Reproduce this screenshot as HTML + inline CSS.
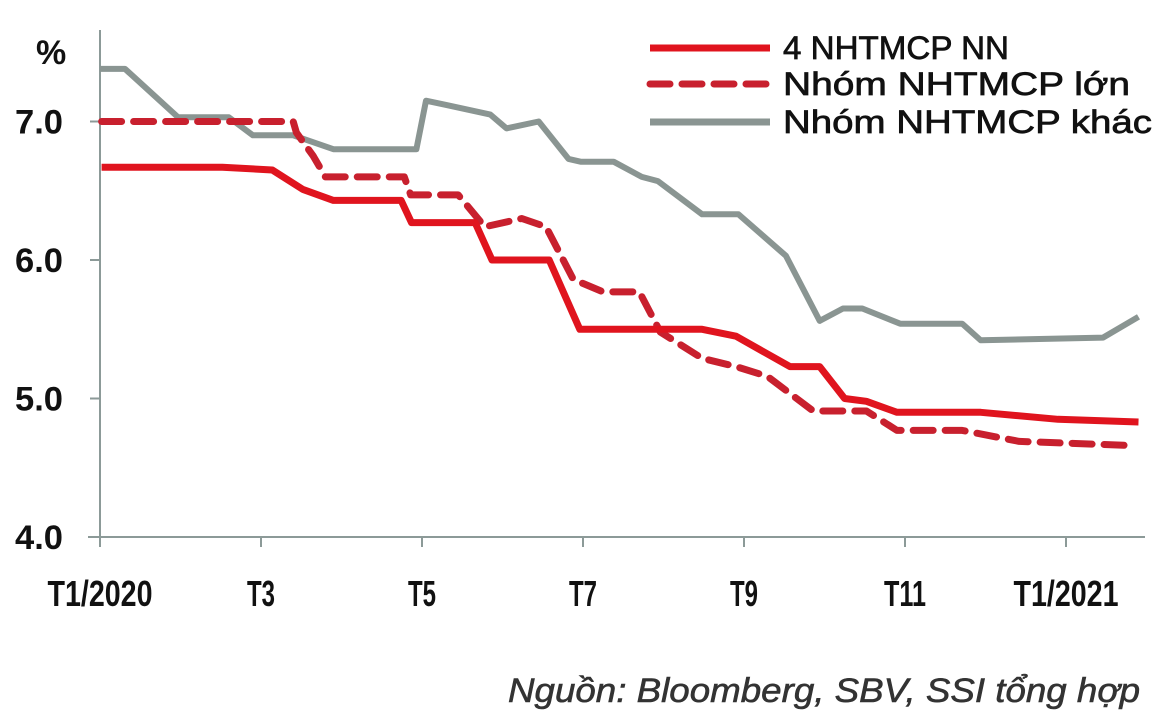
<!DOCTYPE html>
<html><head><meta charset="utf-8"><style>
html,body{margin:0;padding:0;background:#fff;}
svg{display:block;font-family:"Liberation Sans",sans-serif;}
</style></head><body>
<svg id="chart" width="1170" height="718" viewBox="0 0 1170 718">
<g id="axes"></g>
<g id="series"></g>
<g id="legend"></g>
<text x="508" y="702" font-size="34" font-style="italic" fill="#333" stroke="#333" stroke-width="0.6" textLength="632" lengthAdjust="spacingAndGlyphs">Nguồn:  Bloomberg, SBV, SSI tổng hợp</text>
</svg>
<script>
const yTicks = [4.0, 5.0, 6.0, 7.0];
const xTickMonths = [0, 2, 4, 6, 8, 10, 12];
const xTickLabels = ["T1/2020", "T3", "T5", "T7", "T9", "T11", "T1/2021"];
const seriesNames = ["4 NHTMCP NN", "Nhóm NHTMCP  lớn", "Nhóm NHTMCP khác"];
const stateMonths = [0.02,1.52,2.14,2.52,2.9,3.74,3.87,4.66,4.87,5.58,5.96,7.48,7.9,8.57,8.94,9.25,9.52,9.9,10.94,11.9,12.9];
const stateValues = [6.67,6.67,6.65,6.51,6.43,6.43,6.27,6.27,6.0,6.0,5.5,5.5,5.45,5.23,5.23,5.0,4.98,4.9,4.9,4.85,4.83];
const largeMonths = [0.02,2.4,2.44,2.65,2.8,3.78,3.86,4.45,4.78,5.24,5.54,5.88,6.25,6.7,6.96,7.48,7.9,8.29,8.86,9.52,9.9,10.71,11.42,12.84];
const largeValues = [7.0,7.0,6.92,6.75,6.6,6.6,6.47,6.47,6.24,6.3,6.24,5.86,5.77,5.77,5.48,5.29,5.23,5.16,4.91,4.91,4.77,4.77,4.69,4.66];
const otherMonths = [0,0.31,0.97,1.6,1.9,2.4,2.9,3.93,4.05,4.3,4.85,5.05,5.45,5.82,5.97,6.38,6.73,6.93,7.48,7.93,8.52,8.94,9.23,9.47,9.94,10.71,10.94,12.46,12.9];
const otherValues = [7.38,7.38,7.03,7.03,6.9,6.9,6.8,6.8,7.15,7.12,7.05,6.95,7.0,6.73,6.71,6.71,6.6,6.57,6.33,6.33,6.03,5.56,5.65,5.65,5.54,5.54,5.42,5.44,5.59];

const NS = "http://www.w3.org/2000/svg";
const X0 = 100, XPM = 80.5, Y4 = 537, YPU = 138.5;
function xs(m){ return X0 + m * XPM; }
function ys(v){ return Y4 - (v - 4) * YPU; }
function mk(tag, attrs, parent){ const e = document.createElementNS(NS, tag); for (const k in attrs) e.setAttribute(k, attrs[k]); parent.appendChild(e); return e; }

const axes = document.getElementById("axes");
let yAxis = mk("line", {x1:X0, y1:30, x2:X0, y2:Y4, stroke:"#8c9a98", "stroke-width":2}, axes);


let xAxis = mk("line", {x1:88, y1:Y4, x2:1145, y2:Y4, stroke:"#8c9a98", "stroke-width":2}, axes);


let pct = mk("text", {x:36, y:64, "font-size":34, "font-weight":"bold", fill:"#111"}, axes);
pct.textContent = "%";


yTicks.forEach(v => {
  const t = mk("line", {x1:90, y1:ys(v), x2:X0, y2:ys(v), stroke:"#8c9a98", "stroke-width":2}, axes);
  
  
  const l = mk("text", {x:63, y:ys(v)+12, "font-size":34, "font-weight":"bold", "text-anchor":"end", fill:"#111", textLength:48, lengthAdjust:"spacingAndGlyphs"}, axes);
  l.textContent = v.toFixed(1);
  
  
});
xTickMonths.forEach((m, i) => {
  const t = mk("line", {x1:xs(m), y1:Y4, x2:xs(m), y2:Y4+10, stroke:"#8c9a98", "stroke-width":2}, axes);
  
  
  const lab = xTickLabels[i];
  const w = lab.length > 3 ? 105 : (lab.length === 3 ? 42 : 28);
  const l = mk("text", {x:xs(m), y:606, "font-size":36, "font-weight":"bold", "text-anchor":"middle", fill:"#111", textLength:w, lengthAdjust:"spacingAndGlyphs"}, axes);
  l.textContent = lab;
  
  
});

const sg = document.getElementById("series");
function pts(ms, vs){ return ms.map((m,i)=> xs(m).toFixed(1)+","+ys(vs[i]).toFixed(1)).join(" "); }
let s3 = mk("polyline", {points:pts(otherMonths, otherValues), fill:"none", stroke:"#8a9592", "stroke-width":6, "stroke-linejoin":"round"}, sg);


let s2 = mk("polyline", {points:pts(largeMonths, largeValues), fill:"none", stroke:"#c8202e", "stroke-width":7, "stroke-dasharray":"20 12", "stroke-linecap":"round", "stroke-linejoin":"round"}, sg);


let s1 = mk("polyline", {points:pts(stateMonths, stateValues), fill:"none", stroke:"#e0141e", "stroke-width":7, "stroke-linejoin":"round"}, sg);



const lg = document.getElementById("legend");
const legY = [48, 84, 122];
const legW = [226, 347, 369];
const legStyles = [
  {stroke:"#e0141e", "stroke-width":7},
  {stroke:"#c8202e", "stroke-width":7, "stroke-dasharray":"20 12", "stroke-linecap":"round"},
  {stroke:"#8a9592", "stroke-width":7}
];
seriesNames.forEach((n, i) => {
  const st = Object.assign({x1:650, y1:legY[i], x2:770, y2:legY[i]}, legStyles[i]);
  const ln = mk("line", st, lg);
  
  
  const t = mk("text", {x:783, y:legY[i]+11, "font-size":32, fill:"#111", stroke:"#111", "stroke-width":0.7, textLength:legW[i], lengthAdjust:"spacingAndGlyphs"}, lg);
  t.textContent = n;
  
  
});
</script>
</body></html>
